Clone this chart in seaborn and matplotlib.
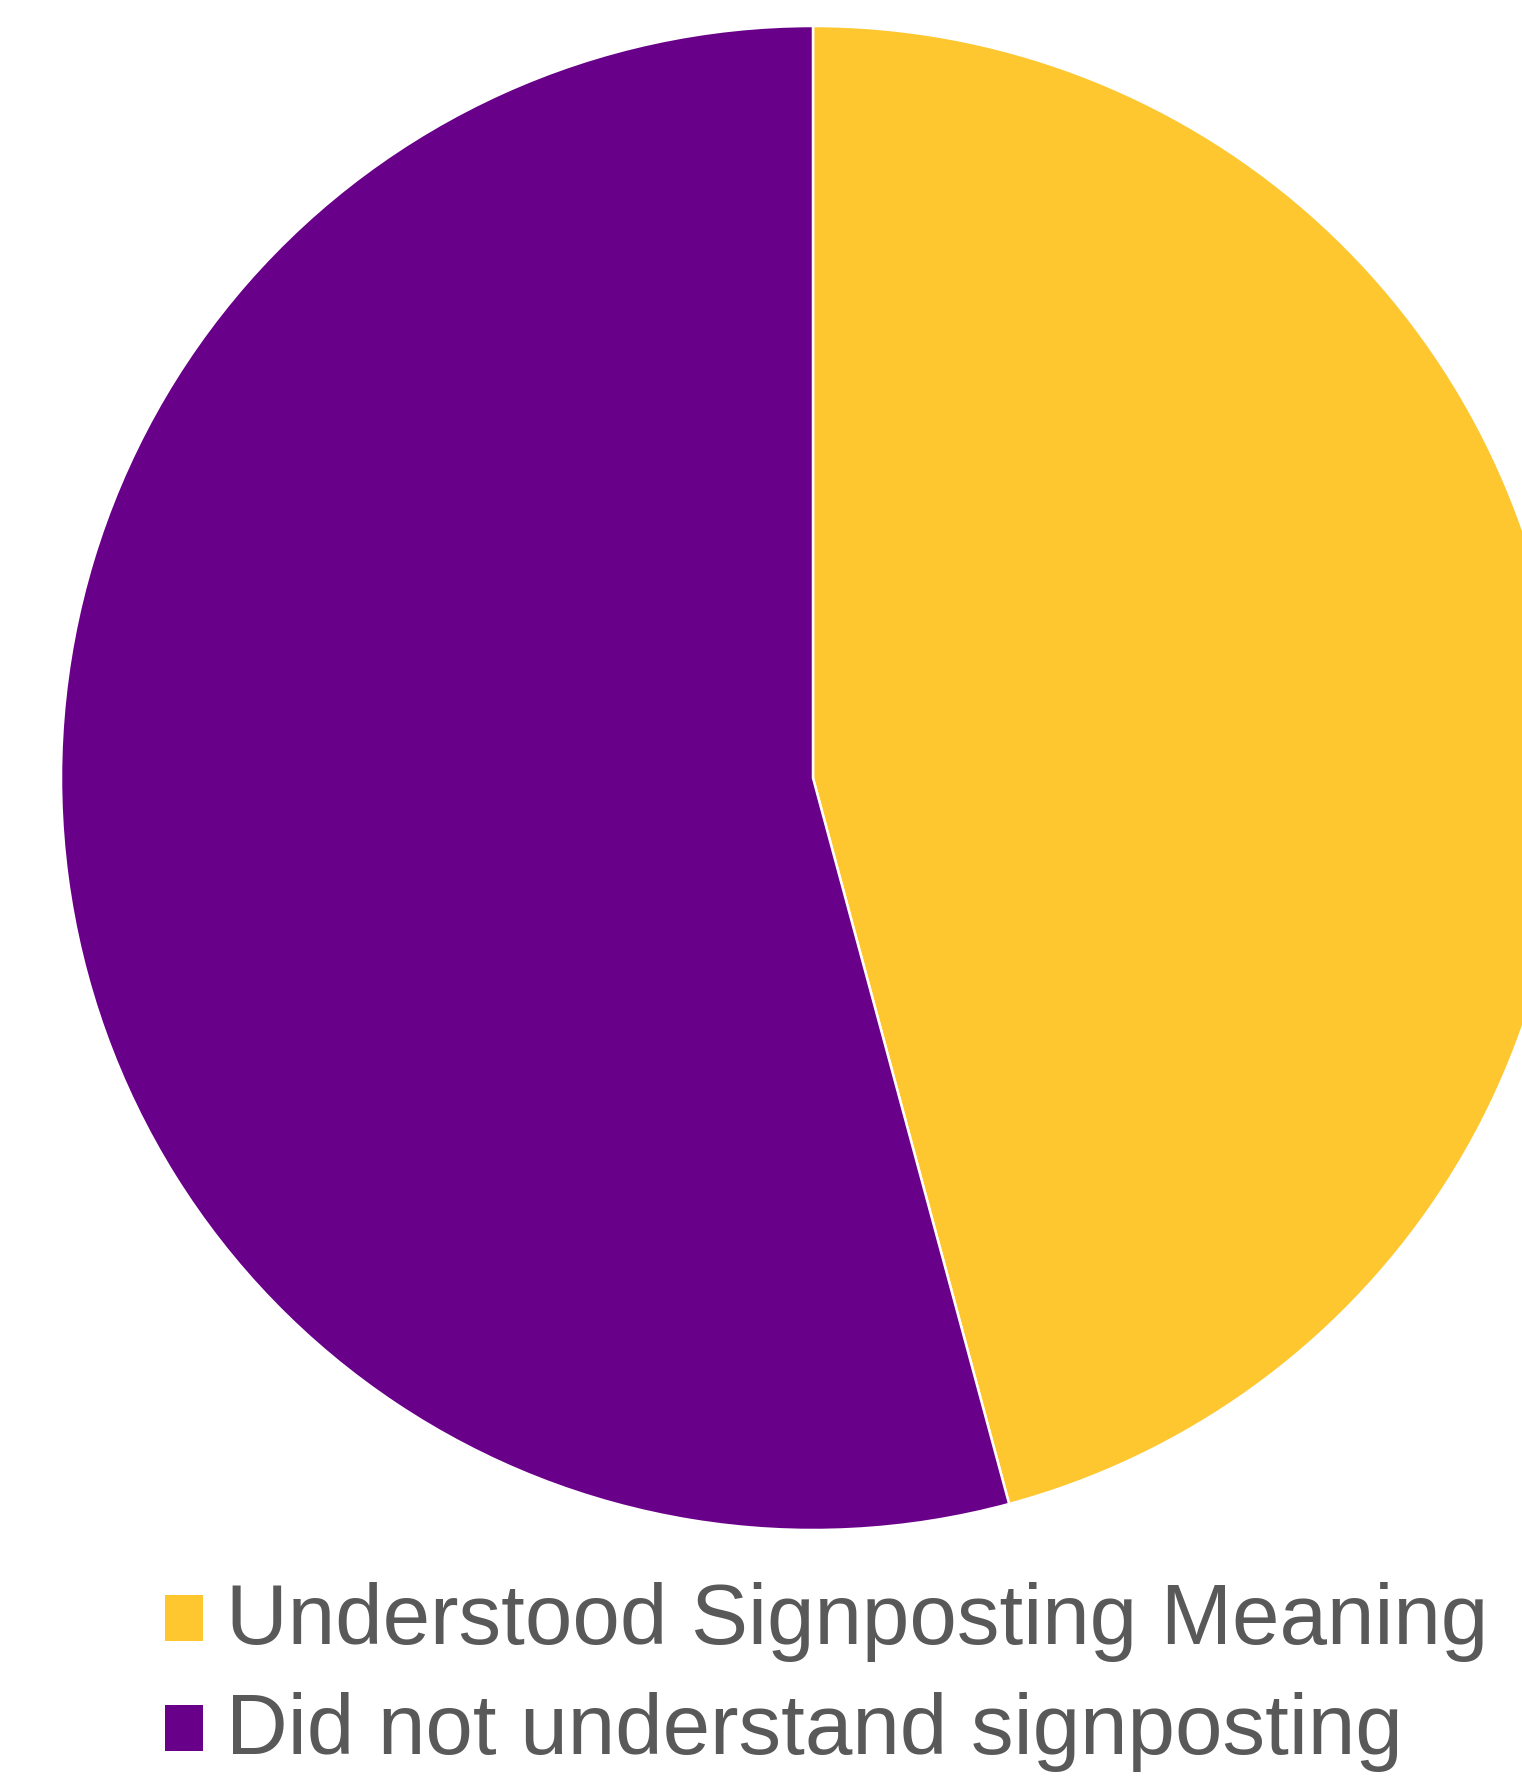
import matplotlib
matplotlib.use("Agg")
import matplotlib.pyplot as plt
import matplotlib.patches as mpatches
from matplotlib.legend_handler import HandlerPatch
import seaborn as sns

labels = ["Understood Signposting Meaning", "Did not understand signposting"]
values = [45.8, 54.2]
colors = ["#FEC72F", "#690089"]

sns.set_theme(style="white")
plt.rcParams['font.family'] = ['Liberation Sans', 'DejaVu Sans']

W, H = 1522, 1784
fig = plt.figure(figsize=(W / 100, H / 100), dpi=100)
cx, cy, r = 813, 778, 752
ax = fig.add_axes([(cx - r) / W, (H - cy - r) / H, 2 * r / W, 2 * r / H])
ax.pie(values, colors=colors, startangle=90, counterclock=False, radius=1,
       wedgeprops=dict(edgecolor="white", linewidth=1.8))
ax.set_xlim(-1, 1)
ax.set_ylim(-1, 1)
ax.set_aspect("auto")
ax.axis("off")


def square(legend, orig_handle, xdescent, ydescent, width, height, fontsize):
    return mpatches.Rectangle((-xdescent, -ydescent - 3.3), width, height)


handles = [mpatches.Patch(facecolor=c, edgecolor="none", label=l) for c, l in zip(colors, labels)]
leg = fig.legend(handles=handles, loc="upper left", bbox_to_anchor=(165 / W, 1 - 1582 / H),
                 frameon=False, fontsize=61.5, handlelength=0.45, handleheight=0.45,
                 handletextpad=0.26, labelspacing=0.35, borderpad=0, borderaxespad=0,
                 handler_map={mpatches.Patch: HandlerPatch(patch_func=square)})
for t in leg.get_texts():
    t.set_color("#595959")

fig.savefig("out.png", dpi=100)
